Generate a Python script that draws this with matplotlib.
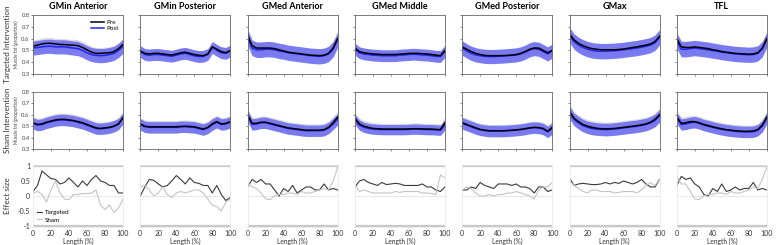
import numpy as np
import matplotlib
matplotlib.use("Agg")
import matplotlib.pyplot as plt

plt.rcParams['font.family'] = ['Lato', 'DejaVu Sans']

# Muscle regions (columns)
muscles = ["GMin Anterior", "GMin Posterior", "GMed Anterior", "GMed Middle",
           "GMed Posterior", "GMax", "TFL"]
row_labels = ["Targeted Intervention", "Sham Intervention", "Effect size"]

# Muscle length, 0-100 % in steps of 5
length = list(range(0, 101, 5))

# Targeted intervention: mean muscle fat (proportion)
tgt_pre = [
    [0.535, 0.545, 0.555, 0.56, 0.56, 0.555, 0.55, 0.55, 0.545, 0.545, 0.54, 0.525, 0.505, 0.485, 0.475, 0.475, 0.478, 0.48, 0.49, 0.515, 0.55],
    [0.495, 0.475, 0.47, 0.475, 0.475, 0.47, 0.465, 0.46, 0.47, 0.48, 0.485, 0.475, 0.465, 0.458, 0.455, 0.47, 0.53, 0.51, 0.49, 0.48, 0.50],
    [0.63, 0.54, 0.52, 0.52, 0.52, 0.52, 0.515, 0.505, 0.495, 0.485, 0.48, 0.475, 0.47, 0.465, 0.46, 0.458, 0.455, 0.46, 0.475, 0.52, 0.60],
    [0.52, 0.49, 0.48, 0.475, 0.47, 0.468, 0.465, 0.465, 0.465, 0.465, 0.468, 0.47, 0.475, 0.475, 0.475, 0.472, 0.47, 0.465, 0.46, 0.455, 0.50],
    [0.53, 0.51, 0.49, 0.475, 0.465, 0.458, 0.455, 0.455, 0.455, 0.456, 0.458, 0.46, 0.465, 0.475, 0.49, 0.51, 0.52, 0.52, 0.50, 0.48, 0.50],
    [0.64, 0.59, 0.56, 0.54, 0.525, 0.515, 0.51, 0.505, 0.505, 0.505, 0.505, 0.508, 0.512, 0.518, 0.525, 0.53, 0.538, 0.545, 0.555, 0.575, 0.62],
    [0.60, 0.53, 0.525, 0.525, 0.53, 0.525, 0.52, 0.515, 0.505, 0.50, 0.49, 0.485, 0.48, 0.475, 0.472, 0.47, 0.468, 0.47, 0.48, 0.52, 0.60],
]
tgt_post = [
    [0.52, 0.525, 0.53, 0.535, 0.535, 0.53, 0.53, 0.53, 0.525, 0.52, 0.515, 0.50, 0.48, 0.465, 0.458, 0.455, 0.458, 0.465, 0.475, 0.50, 0.535],
    [0.49, 0.465, 0.46, 0.465, 0.465, 0.46, 0.455, 0.45, 0.46, 0.47, 0.475, 0.465, 0.455, 0.448, 0.45, 0.465, 0.525, 0.50, 0.48, 0.475, 0.495],
    [0.61, 0.52, 0.505, 0.505, 0.51, 0.51, 0.505, 0.495, 0.49, 0.48, 0.475, 0.47, 0.465, 0.46, 0.455, 0.452, 0.45, 0.455, 0.47, 0.51, 0.59],
    [0.51, 0.48, 0.47, 0.465, 0.46, 0.458, 0.455, 0.455, 0.455, 0.455, 0.46, 0.462, 0.465, 0.468, 0.465, 0.462, 0.46, 0.455, 0.45, 0.448, 0.49],
    [0.52, 0.495, 0.475, 0.462, 0.455, 0.45, 0.448, 0.448, 0.45, 0.452, 0.455, 0.458, 0.462, 0.47, 0.485, 0.505, 0.515, 0.51, 0.49, 0.47, 0.495],
    [0.63, 0.575, 0.545, 0.525, 0.51, 0.50, 0.495, 0.493, 0.493, 0.495, 0.497, 0.50, 0.505, 0.51, 0.515, 0.52, 0.527, 0.535, 0.545, 0.565, 0.61],
    [0.58, 0.51, 0.51, 0.515, 0.52, 0.515, 0.51, 0.505, 0.498, 0.492, 0.485, 0.48, 0.475, 0.47, 0.467, 0.465, 0.463, 0.465, 0.475, 0.51, 0.59],
]

# Sham intervention: mean muscle fat (proportion)
sham_pre = [
    [0.53, 0.515, 0.52, 0.535, 0.545, 0.555, 0.56, 0.56, 0.555, 0.55, 0.54, 0.53, 0.515, 0.50, 0.485, 0.48, 0.485, 0.49, 0.50, 0.52, 0.575],
    [0.52, 0.50, 0.495, 0.495, 0.495, 0.495, 0.495, 0.495, 0.495, 0.498, 0.50, 0.498, 0.495, 0.485, 0.475, 0.49, 0.52, 0.54, 0.52, 0.525, 0.54],
    [0.60, 0.525, 0.525, 0.535, 0.535, 0.525, 0.515, 0.505, 0.495, 0.485, 0.48, 0.475, 0.47, 0.465, 0.465, 0.465, 0.465, 0.47, 0.49, 0.53, 0.58],
    [0.57, 0.52, 0.50, 0.49, 0.48, 0.478, 0.476, 0.475, 0.475, 0.475, 0.475, 0.475, 0.476, 0.478, 0.478, 0.476, 0.475, 0.475, 0.472, 0.47, 0.53],
    [0.53, 0.515, 0.50, 0.485, 0.472, 0.465, 0.46, 0.46, 0.46, 0.46, 0.462, 0.465, 0.468, 0.472, 0.478, 0.485, 0.49, 0.488, 0.48, 0.455, 0.49],
    [0.63, 0.57, 0.54, 0.515, 0.50, 0.49, 0.482, 0.478, 0.477, 0.478, 0.48, 0.485, 0.49, 0.495, 0.50, 0.505, 0.512, 0.52, 0.535, 0.56, 0.60],
    [0.58, 0.525, 0.53, 0.54, 0.54, 0.53, 0.515, 0.505, 0.495, 0.485, 0.477, 0.47, 0.465, 0.46, 0.457, 0.455, 0.455, 0.458, 0.47, 0.51, 0.58],
]
sham_post = [
    [0.525, 0.51, 0.515, 0.53, 0.54, 0.55, 0.555, 0.555, 0.55, 0.545, 0.535, 0.525, 0.51, 0.495, 0.48, 0.478, 0.482, 0.488, 0.50, 0.52, 0.57],
    [0.515, 0.495, 0.49, 0.49, 0.49, 0.49, 0.49, 0.49, 0.49, 0.495, 0.495, 0.492, 0.49, 0.48, 0.47, 0.485, 0.515, 0.535, 0.515, 0.52, 0.535],
    [0.59, 0.515, 0.52, 0.53, 0.53, 0.52, 0.51, 0.50, 0.49, 0.48, 0.475, 0.47, 0.465, 0.46, 0.46, 0.46, 0.46, 0.465, 0.485, 0.52, 0.56],
    [0.56, 0.51, 0.49, 0.48, 0.475, 0.472, 0.47, 0.47, 0.47, 0.47, 0.47, 0.47, 0.472, 0.475, 0.474, 0.472, 0.47, 0.47, 0.468, 0.465, 0.51],
    [0.525, 0.51, 0.495, 0.48, 0.468, 0.462, 0.458, 0.458, 0.458, 0.458, 0.46, 0.462, 0.466, 0.47, 0.476, 0.484, 0.488, 0.485, 0.475, 0.45, 0.48],
    [0.62, 0.56, 0.53, 0.505, 0.49, 0.48, 0.475, 0.472, 0.47, 0.472, 0.475, 0.48, 0.485, 0.49, 0.495, 0.50, 0.507, 0.515, 0.53, 0.55, 0.59],
    [0.57, 0.515, 0.52, 0.53, 0.535, 0.525, 0.51, 0.50, 0.49, 0.48, 0.472, 0.465, 0.46, 0.455, 0.452, 0.45, 0.45, 0.452, 0.465, 0.50, 0.57],
]

# Standard deviation of muscle fat per muscle (pre / post)
sd_tgt_pre = [0.05, 0.04, 0.055, 0.04, 0.05, 0.055, 0.055]
sd_tgt_post = [0.06, 0.05, 0.065, 0.05, 0.06, 0.065, 0.065]
sd_sham_pre = [0.055, 0.055, 0.055, 0.05, 0.055, 0.06, 0.055]
sd_sham_post = [0.05, 0.05, 0.05, 0.045, 0.05, 0.055, 0.05]

# Effect size (pre vs post) along the muscle length
es_tgt = [
    [0.15, 0.35, 0.83, 0.7, 0.58, 0.55, 0.4, 0.45, 0.6, 0.45, 0.3, 0.5, 0.35, 0.55, 0.68, 0.5, 0.45, 0.35, 0.35, 0.1, 0.1],
    [0.0, 0.3, 0.55, 0.52, 0.4, 0.3, 0.35, 0.5, 0.68, 0.55, 0.4, 0.6, 0.45, 0.42, 0.35, 0.35, 0.1, 0.35, 0.05, -0.15, -0.05],
    [0.3, 0.55, 0.45, 0.55, 0.4, 0.4, 0.2, 0.0, 0.25, 0.15, 0.35, 0.1, 0.2, 0.3, 0.3, 0.2, 0.2, 0.4, 0.2, 0.25, 0.2],
    [0.3, 0.5, 0.55, 0.45, 0.4, 0.35, 0.45, 0.38, 0.4, 0.42, 0.4, 0.35, 0.35, 0.35, 0.35, 0.4, 0.3, 0.3, 0.2, 0.15, 0.3],
    [0.2, 0.2, 0.3, 0.25, 0.45, 0.35, 0.3, 0.25, 0.4, 0.4, 0.4, 0.35, 0.4, 0.3, 0.3, 0.25, 0.1, 0.3, 0.3, 0.15, 0.2],
    [0.6, 0.35, 0.4, 0.42, 0.4, 0.38, 0.38, 0.4, 0.45, 0.4, 0.45, 0.42, 0.5, 0.45, 0.4, 0.45, 0.55, 0.4, 0.3, 0.3, 0.55],
    [0.35, 0.65, 0.55, 0.6, 0.4, 0.3, 0.05, 0.0, 0.25, 0.15, 0.4, 0.15, 0.2, 0.3, 0.2, 0.25, 0.25, 0.45, 0.2, 0.25, 0.2],
]
es_sham = [
    [0.1, 0.15, 0.05, -0.2, 0.2, 0.5, 0.1, -0.1, -0.12, 0.05, 0.05, 0.08, 0.08, 0.1, 0.2, -0.3, -0.45, -0.3, -0.55, -0.4, -0.1],
    [0.3, 0.35, 0.2, 0.0, 0.1, 0.3, 0.05, -0.05, 0.1, 0.15, 0.1, 0.15, 0.2, 0.2, 0.1, -0.1, -0.3, -0.35, -0.5, -0.2, -0.1],
    [0.45, 0.3, 0.25, 0.1, -0.1, -0.12, 0.0, 0.05, 0.05, 0.1, 0.1, 0.05, 0.15, 0.1, 0.1, 0.15, 0.2, 0.25, 0.2, 0.5, 0.95],
    [0.35, 0.15, 0.2, 0.15, 0.1, 0.1, 0.1, 0.1, 0.1, 0.15, 0.12, 0.15, 0.15, 0.15, 0.15, 0.1, 0.1, 0.08, 0.05, 0.7, 0.6],
    [0.2, 0.3, 0.25, 0.1, 0.0, 0.0, 0.05, 0.0, 0.05, 0.05, 0.1, 0.1, 0.15, 0.1, 0.05, 0.0, -0.1, 0.2, 0.3, 0.3, 0.45],
    [0.5, 0.35, 0.25, 0.15, 0.1, 0.2, 0.2, 0.15, 0.15, 0.15, 0.1, 0.12, 0.15, 0.15, 0.15, 0.1, 0.2, 0.35, 0.45, 0.35, 0.55],
    [0.65, 0.4, 0.4, 0.15, -0.1, -0.12, 0.0, 0.05, 0.05, 0.1, 0.1, 0.05, 0.15, 0.1, 0.1, 0.15, 0.2, 0.3, 0.25, 0.55, 0.95],
]

# Colours
BAND_POST = "#7474f2"
BAND_PRE = "#dcdcdc"
LINE_POST = "#2424e6"
LINE_PRE = "black"
ES_TGT = "#3a3a3a"
ES_SHAM = "#c4c4c4"

fig = plt.figure(figsize=(7.77, 2.45), dpi=100)

left0, width, gap = 33 / 777, 90 / 777, 17.3 / 777
rows_y = [(15, 74), (92, 149), (165, 227)]  # top, bottom in pixels


def make_ax(row, col):
    top, bottom = rows_y[row]
    return fig.add_axes([left0 + col * (width + gap), 1 - bottom / 245,
                         width, (bottom - top) / 245])


def fat_panel(ax, pre, post, sd_pre, sd_post, first):
    x = np.array(length)
    pre = np.array(pre)
    post = np.array(post)
    ax.fill_between(x, pre - sd_pre, pre + sd_pre, color=BAND_PRE, lw=0)
    ax.fill_between(x, post - sd_post, post + sd_post, color=BAND_POST, lw=0, alpha=0.95)
    ax.plot(x, post, color=LINE_POST, lw=1.1, label="Post")
    ax.plot(x, pre, color=LINE_PRE, lw=1.1, label="Pre")
    ax.set_xlim(0, 100)
    ax.set_ylim(0.3, 0.8)
    ax.set_xticks(range(0, 101, 20))
    ax.set_yticks([0.3, 0.4, 0.5, 0.6, 0.7, 0.8])
    ax.tick_params(length=1.5, width=0.5, color="#555555", labelsize=4.2, pad=1)
    ax.set_xticklabels([])
    for s in ax.spines.values():
        s.set_color("#666666")
        s.set_linewidth(0.6)
    if first:
        ax.set_yticklabels(["0.3", "0.4", "0.5", "0.6", "0.7", "0.8"], color="#444444")
        ax.set_ylabel("Muscle fat (proportion)", fontsize=3.3, labelpad=1.5, color="#444444")
    else:
        ax.set_yticklabels([])


def es_panel(ax, tgt, sham, first):
    ax.axhline(0, color="#e3e3e3", lw=0.6)
    ax.axhline(1, color="#c8c8c8", lw=1.6)
    ax.axhline(-1, color="#c8c8c8", lw=1.6)
    ax.plot(length, tgt, color=ES_TGT, lw=0.8, label="Targeted")
    ax.plot(length, sham, color=ES_SHAM, lw=0.8, label="Sham")
    ax.set_xlim(0, 100)
    ax.set_ylim(-1.03, 1.03)
    ax.set_xticks(range(0, 101, 20))
    ax.set_yticks([-1, -0.5, 0, 0.5, 1])
    ax.tick_params(length=0, labelsize=5, pad=2, labelcolor="#333333")
    ax.set_xlabel("Length (%)", fontsize=4.8, labelpad=1, color="#333333")
    for s in ax.spines.values():
        s.set_color("#e6e6e6")
        s.set_linewidth(0.5)
    if first:
        ax.set_yticklabels(["-1", "-0.5", "0", "0.5", "1"])
        ax.legend(loc="lower left", fontsize=4.5, frameon=False, handlelength=0.8,
                  handletextpad=0.4, borderaxespad=0.3, labelspacing=0.3)
    else:
        ax.set_yticklabels([])


for col, name in enumerate(muscles):
    ax = make_ax(0, col)
    fat_panel(ax, tgt_pre[col], tgt_post[col], sd_tgt_pre[col], sd_tgt_post[col], col == 0)
    ax.set_title(name, fontsize=6.5, fontweight="bold", pad=4)
    if col == 0:
        handles, labels = ax.get_legend_handles_labels()
        ax.legend(handles[::-1], labels[::-1], loc="upper right", fontsize=4.5,
                  handlelength=2.0, handletextpad=0.4, borderpad=0.2,
                  labelspacing=0.2, frameon=False)

    ax = make_ax(1, col)
    fat_panel(ax, sham_pre[col], sham_post[col], sd_sham_pre[col], sd_sham_post[col], col == 0)

    ax = make_ax(2, col)
    es_panel(ax, es_tgt[col], es_sham[col], col == 0)

# Row labels on the far left
for row, label in enumerate(row_labels):
    top, bottom = rows_y[row]
    fig.text(8 / 777, 1 - (top + bottom) / 2 / 245, label, rotation=90,
             ha="center", va="center", fontsize=5.8, color="#333333")

fig.savefig("out.png", dpi=100)
